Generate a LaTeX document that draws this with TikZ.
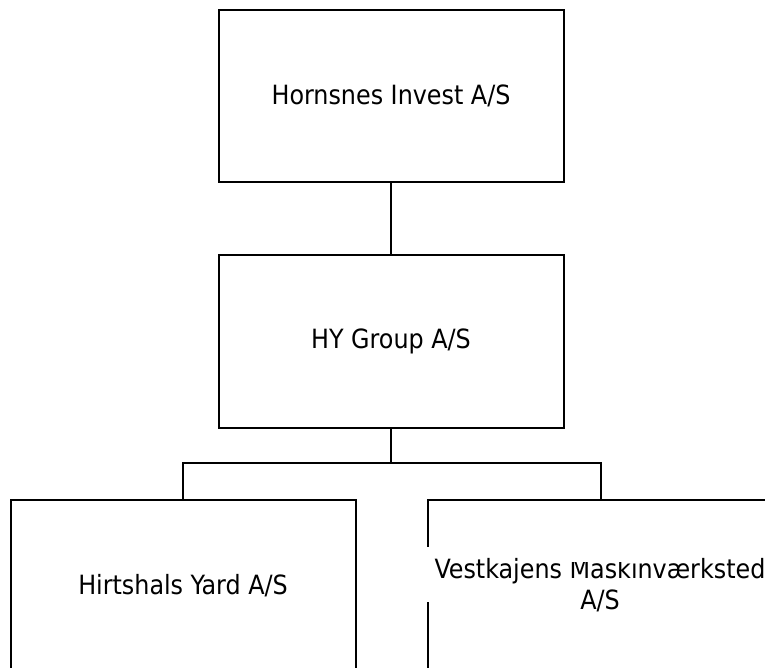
\documentclass[tikz,border=0pt]{standalone}
\usepackage{fontspec}
\setmainfont{DejaVu Sans Condensed}
\begin{document}
\begin{tikzpicture}[x=1pt,y=-1pt,
  orgbox/.style={draw=black,line width=2pt,minimum width=345pt,minimum height=172pt,inner sep=0pt,
    font=\fontsize{26.5}{31}\selectfont},
  conn/.style={draw=black,line width=2pt}]
\useasboundingbox (0,0) rectangle (765,668);
\node[orgbox] (hi) at (391,96) {Hornsnes Invest A/S};
\node[orgbox] (hy) at (391,341.5) {HY Group A/S};
\node[orgbox] (hyard) at (183,586) {Hirtshals Yard A/S};
\node[orgbox,align=center] (vm) at (600.5,586) {};
\fill[white] (420,547) rectangle (436,602);
\node[font=\fontsize{26.5}{31}\selectfont,align=center,inner sep=0pt] (vmt) at (600,585) {Vestkajens Maskinværksted\\A/S};
\fill[white] (560,548) rectangle (636,561.5);
\coordinate (j) at (391,463);
\draw[conn] (hi.south) -- (hy.north);
\draw[conn] (hy.south) -- (j);
\draw[conn] (hyard.north) |- (j) -| (vm.north);
\end{tikzpicture}
\end{document}
